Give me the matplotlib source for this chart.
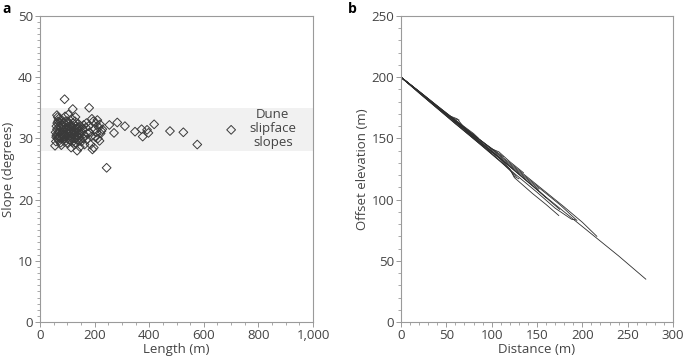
import matplotlib
matplotlib.use('Agg')
import matplotlib.pyplot as plt
from matplotlib.ticker import MultipleLocator, FuncFormatter

plt.rcParams['font.family'] = ['Open Sans', 'DejaVu Sans']

# panel a: dune slipface length vs slope
length = [55, 58, 60, 62, 63, 65, 62, 68, 70, 72, 74, 75, 78, 80, 82, 84, 86, 88, 90, 92,
          94, 96, 98, 100, 102, 104, 106, 108, 110, 112, 114, 116, 118, 120, 122, 124, 126,
          128, 130, 132, 134, 136, 138, 140, 142, 144, 146, 148, 150, 152, 155, 158, 160,
          163, 165, 168, 170, 172, 175, 178, 180, 182, 185, 188, 190, 192, 195, 197, 200,
          203, 205, 208, 210, 212, 215, 218, 220, 222, 225, 228,
          66, 68, 70, 72, 76, 78, 80, 82, 85, 87, 89, 91, 93, 95, 97, 99, 101, 103, 105,
          107, 109, 111, 113, 115, 117, 119, 121, 123, 125, 127, 129, 131, 133, 135, 137,
          139, 141, 143, 145, 60, 64, 66, 57, 59,
          244, 254, 271, 283, 311, 348, 372, 376, 392, 397, 418, 476, 525, 576, 700]
slope = [28.8, 29.5, 30.5, 31.5, 32.5, 33.5, 33.8, 33.2, 32.0, 31.0, 30.2, 29.3, 28.9, 33.0,
         32.2, 31.4, 30.6, 29.8, 36.4, 33.6, 32.8, 31.8, 30.9, 30.0, 29.2, 33.9, 32.5, 31.2,
         30.4, 29.6, 28.5, 33.2, 32.0, 34.8, 31.0, 30.0, 29.0, 32.8, 33.5, 31.6, 30.5, 28.0,
         29.8, 32.4, 31.2, 30.2, 28.6, 32.0, 30.8, 29.5, 31.5, 30.0, 32.2, 29.0, 30.5, 31.8,
         32.5, 29.8, 30.8, 32.0, 35.0, 31.0, 29.0, 30.3, 33.2, 28.2, 32.8, 28.5, 31.5, 30.2,
         32.5, 31.0, 33.0, 30.0, 31.8, 29.6, 32.3, 30.8, 31.2, 31.5,
         31.0, 30.2, 29.6, 32.6, 31.8, 30.7, 30.0, 31.0, 32.6, 31.2, 30.3, 29.4, 31.5, 30.5,
         32.2, 31.4, 32.8, 30.8, 31.6, 29.8, 32.0, 31.0, 30.2, 31.7, 30.6, 29.4, 32.5, 31.4,
         30.6, 31.2, 30.0, 32.0, 29.2, 31.0, 30.4, 31.5, 29.5, 31.8, 30.8, 32.0, 30.0, 32.8,
         31.0, 30.2,
         25.2, 32.2, 30.9, 32.6, 32.0, 31.1, 31.5, 30.3, 31.4, 30.9, 32.3, 31.2, 31.0, 29.0, 31.4]

band_low, band_high = 28, 35

# panel b: slipface profiles (distance m, offset elevation m)
profiles = [
    ([0, 20, 40, 60, 80, 100, 120, 140, 160, 180, 200, 220, 240, 270],
     [200, 188, 176, 163.5, 151, 139, 127, 114.5, 102, 90, 78, 66, 54, 35]),
    ([0, 20, 40, 60, 80, 100, 120, 140, 160, 180, 200, 216],
     [200, 188.5, 176.5, 165, 153, 141.5, 130, 118, 106, 94, 81.5, 70]),
    ([0, 25, 50, 75, 100, 125, 150, 175, 194],
     [200, 185.5, 170.5, 156, 141, 126, 111, 96, 83]),
    ([0, 30, 60, 90, 120, 150, 170, 188, 192],
     [200, 181, 162.5, 143.5, 124.5, 106, 93, 84, 83.5]),
    ([0, 20, 45, 70, 95, 120, 125, 145, 160, 174],
     [200, 188, 172.5, 157, 141, 125, 118, 105, 96, 87]),
    ([0, 30, 60, 90, 120, 150, 175],
     [200, 182, 164, 145.5, 127, 108, 92]),
    ([0, 25, 50, 62, 75, 100, 125, 150, 160],
     [200, 185, 169.5, 166, 154, 139.5, 124, 108.5, 101.5]),
    ([0, 30, 60, 90, 120, 140, 152],
     [200, 182, 164, 146, 128, 116, 108.5]),
    ([0, 20, 40, 60, 80, 100, 108, 120, 135],
     [200, 188, 176, 164, 152.5, 141.5, 139, 131, 122]),
    ([0, 30, 60, 90, 110, 127],
     [200, 181, 162, 143.5, 131, 119]),
    ([0, 25, 50, 75, 95, 113],
     [200, 185, 170, 155.5, 144.5, 135]),
    ([0, 20, 40, 60, 80, 100],
     [200, 187, 174.5, 162, 150, 138]),
    ([0, 30, 60, 80, 85],
     [200, 182.5, 165, 154, 150.5]),
    ([0, 20, 40, 55, 64],
     [200, 187.5, 175, 167, 165]),
    ([0, 40, 80, 110, 120, 125, 130],
     [200, 176, 151, 133, 125, 119, 117]),
]

txt = '#444444'
spine = '#9a9a9a'

fig = plt.figure(figsize=(6.85, 3.56), dpi=100)
ax1 = fig.add_axes([0.0584, 0.0955, 0.3986, 0.8595])
ax2 = fig.add_axes([0.5854, 0.0955, 0.3971, 0.8595])


def style(ax):
    for s in ax.spines.values():
        s.set_color(spine)
        s.set_linewidth(0.8)
    ax.tick_params(which='both', direction='out', color=spine, labelcolor=txt,
                   labelsize=9.5, top=False, right=False, pad=1.5)
    ax.tick_params(which='major', length=3.5, width=0.7)
    ax.tick_params(which='minor', length=2, width=0.6)


ax1.axhspan(band_low, band_high, facecolor='#f1f1f1', edgecolor='none', zorder=0)
ax1.scatter(length, slope, marker='D', s=20, facecolors='none', edgecolors='#3a3a3a',
            linewidths=0.7, zorder=2)
ax1.text(853, 31.6, 'Dune\nslipface\nslopes', ha='center', va='center', fontsize=9.5,
         color=txt, linespacing=1.1)
ax1.set_xlim(0, 1000)
ax1.set_ylim(0, 50)
ax1.xaxis.set_major_locator(MultipleLocator(200))
ax1.xaxis.set_minor_locator(MultipleLocator(50))
ax1.yaxis.set_major_locator(MultipleLocator(10))
ax1.yaxis.set_minor_locator(MultipleLocator(1))
ax1.xaxis.set_major_formatter(FuncFormatter(lambda v, p: f'{int(v):,}'))
ax1.set_xlabel('Length (m)', fontsize=9.5, color=txt, labelpad=1)
ax1.set_ylabel('Slope (degrees)', fontsize=9.5, color=txt, labelpad=2)
style(ax1)

for d, e in profiles:
    ax2.plot(d, e, color='#2e2e2e', lw=0.6)
ax2.set_xlim(0, 300)
ax2.set_ylim(0, 250)
ax2.xaxis.set_major_locator(MultipleLocator(50))
ax2.xaxis.set_minor_locator(MultipleLocator(10))
ax2.yaxis.set_major_locator(MultipleLocator(50))
ax2.yaxis.set_minor_locator(MultipleLocator(10))
ax2.set_xlabel('Distance (m)', fontsize=9.5, color=txt, labelpad=1)
ax2.set_ylabel('Offset elevation (m)', fontsize=9.5, color=txt, labelpad=2)
style(ax2)

fig.text(0.004, 0.975, 'a', fontsize=10, fontweight='bold', va='center')
fig.text(0.508, 0.975, 'b', fontsize=10, fontweight='bold', va='center')

fig.savefig('out.png', dpi=100)
